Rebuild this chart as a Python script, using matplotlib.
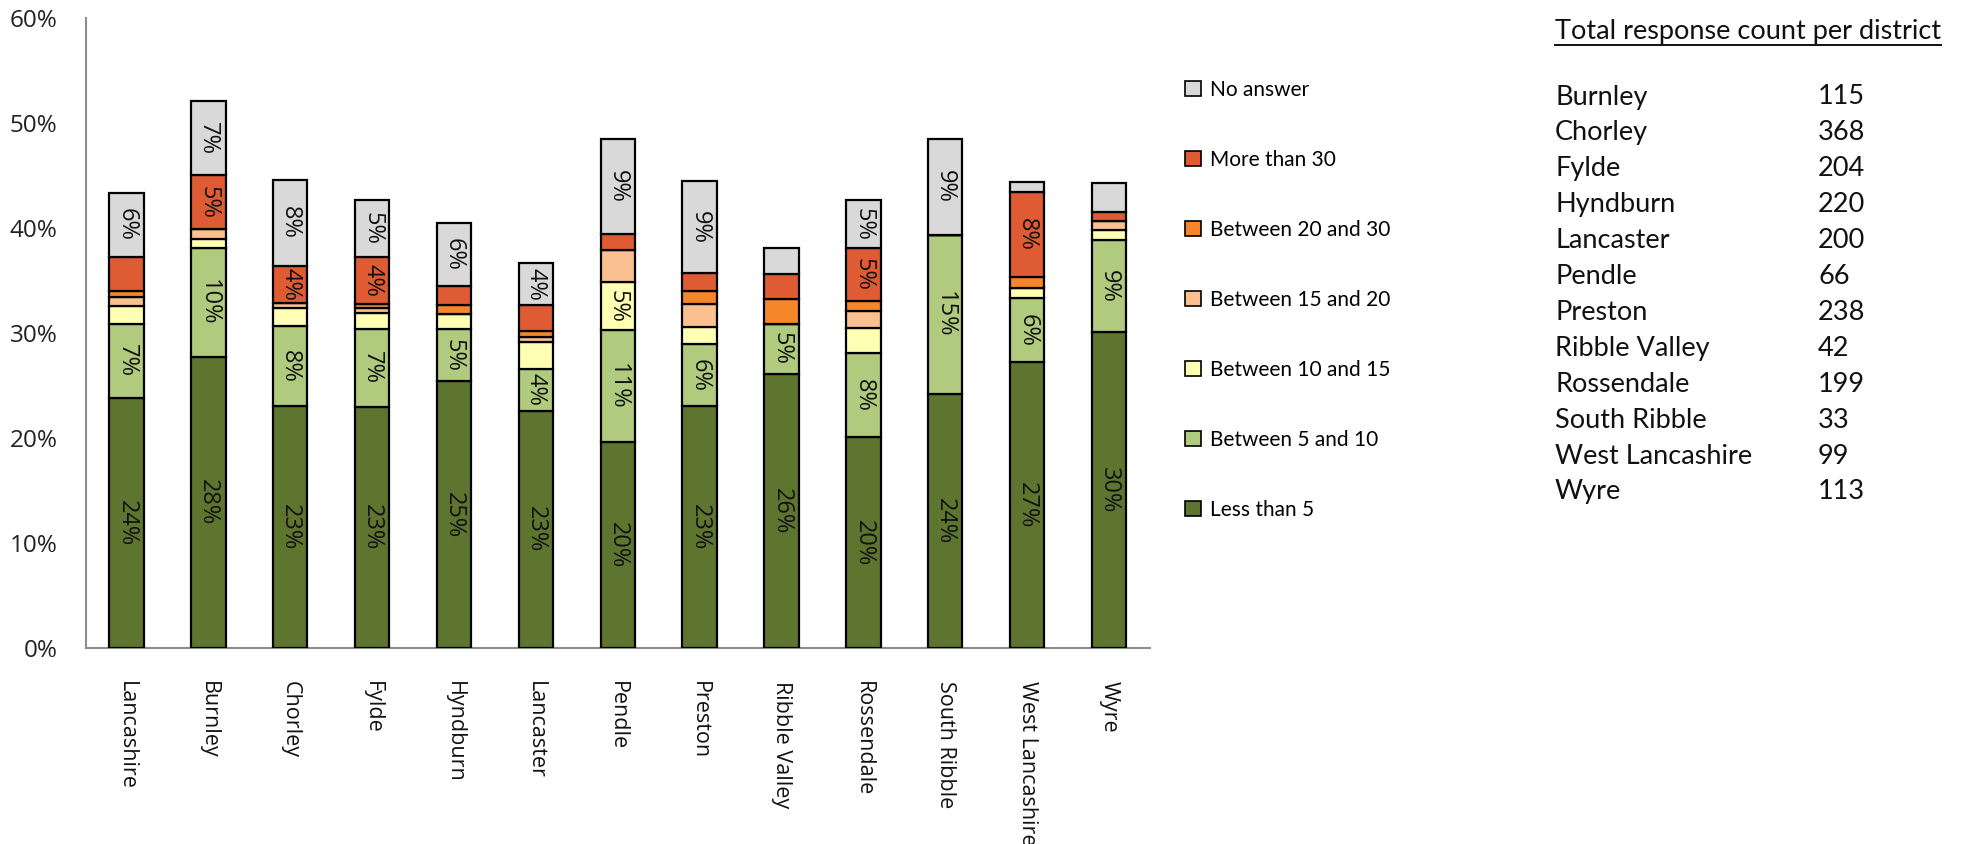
import matplotlib
matplotlib.use("Agg")
import matplotlib.pyplot as plt
from matplotlib.patches import Patch
from matplotlib.lines import Line2D
import numpy as np

districts = ["Lancashire", "Burnley", "Chorley", "Fylde", "Hyndburn", "Lancaster",
             "Pendle", "Preston", "Ribble Valley", "Rossendale", "South Ribble",
             "West Lancashire", "Wyre"]

series_names = ["Less than 5", "Between 5 and 10", "Between 10 and 15",
                "Between 15 and 20", "Between 20 and 30", "More than 30", "No answer"]

less_than_5 = [23.8, 27.7, 23.05, 23.0, 25.4, 22.6, 19.65, 23.05, 26.1, 20.05, 24.2, 27.2, 30.05]
between_5_10 = [7.1, 10.4, 7.6, 7.4, 5.0, 4.0, 10.6, 5.9, 4.8, 8.05, 15.15, 6.1, 8.85]
between_10_15 = [1.7, 0.9, 1.7, 1.5, 1.4, 2.5, 4.6, 1.65, 0.0, 2.4, 0.0, 0.95, 0.9]
between_15_20 = [0.86, 0.86, 0.5, 0.5, 0.0, 0.55, 3.1, 2.15, 0.0, 1.6, 0.0, 0.0, 0.9]
between_20_30 = [0.57, 0.0, 0.0, 0.4, 0.9, 0.5, 0.0, 1.25, 2.35, 0.95, 0.0, 1.05, 0.0]
more_than_30 = [3.24, 5.2, 3.55, 4.45, 1.8, 2.5, 1.45, 1.7, 2.35, 5.05, 0.0, 8.1, 0.85]
no_answer = [6.1, 7.0, 8.2, 5.4, 5.95, 4.0, 9.1, 8.8, 2.45, 4.55, 9.15, 1.0, 2.7]

colors = ["#5E7530", "#B0CB7E", "#FFFFB3", "#FAC090", "#F5872A", "#DE5B33", "#D9D9D9"]

table_districts = ["Burnley", "Chorley", "Fylde", "Hyndburn", "Lancaster", "Pendle",
                   "Preston", "Ribble Valley", "Rossendale", "South Ribble",
                   "West Lancashire", "Wyre"]
table_counts = [115, 368, 204, 220, 200, 66, 238, 42, 199, 33, 99, 113]
table_title = "Total response count per district"

plt.rcParams['font.family'] = ['Open Sans', 'DejaVu Sans']

W, H = 1963, 844
fig = plt.figure(figsize=(W / 100, H / 100), dpi=100)
ax = fig.add_axes([85.5 / W, 1 - 648 / H, (1150 - 85.5) / W, (648 - 18) / H])

series = [less_than_5, between_5_10, between_10_15, between_15_20,
          between_20_30, more_than_30, no_answer]
x = np.arange(len(districts))
bottom = np.zeros(len(districts))
width = 0.42
for name, vals, col in zip(series_names, series, colors):
    v = np.array(vals) / 100.0
    ax.bar(x, v, width, bottom=bottom, color=col, edgecolor="black",
           linewidth=1.6, label=name, zorder=3)
    for xi, b, val in zip(x, bottom, v):
        if val * 100 >= 3.5:
            ax.text(xi, b + val / 2, f"{val * 100:.0f}%", rotation=270,
                    ha="center", va="center", fontsize=17, color="#111111",
                    rotation_mode="anchor", zorder=4)
    bottom = bottom + v

ax.set_ylim(0, 0.6)
ax.set_xlim(-0.5, len(districts) - 0.5)
ax.set_yticks(np.arange(0, 0.61, 0.1))
ax.set_yticklabels([f"{int(round(t * 100))}%" for t in np.arange(0, 0.61, 0.1)],
                   fontsize=17.5, color="#222222")
ax.set_xticks(x)
ax.set_xticklabels(districts, rotation=270, fontsize=15.5, color="#111111",
                   va="top", ha="center")
ax.tick_params(axis="both", length=0)
ax.tick_params(axis="x", pad=24)
ax.tick_params(axis="y", pad=20)
for s in ["top", "right"]:
    ax.spines[s].set_visible(False)
for s in ["left", "bottom"]:
    ax.spines[s].set_color("#8c8c8c")
    ax.spines[s].set_linewidth(1.5)

handles = [Patch(facecolor=c, edgecolor="black", linewidth=1.2) for c in colors]
leg = fig.legend(handles[::-1], series_names[::-1], loc="upper left",
                 bbox_to_anchor=(1185 / W, 1 - 80 / H), frameon=False,
                 prop={"family": "Lato", "size": 15}, labelspacing=2.4,
                 handlelength=0.75, handleheight=0.75, handletextpad=0.45,
                 borderaxespad=0, borderpad=0)

# table
tx_name = 1555 / W
tx_num = 1818 / W
fs_tab = 19.5
t = fig.text(tx_name, 1 - 31 / H, table_title, fontsize=fs_tab, family="Lato",
             ha="left", va="center", color="#111111")
for i, (nm, c) in enumerate(zip(table_districts, table_counts)):
    yy = 1 - (97 + i * 35.9) / H
    fig.text(tx_name, yy, nm, fontsize=fs_tab, family="Lato", ha="left", va="center",
             color="#111111")
    fig.text(tx_num, yy, str(c), fontsize=fs_tab, family="Lato", ha="left", va="center",
             color="#111111")

fig.canvas.draw()
bb = t.get_window_extent(renderer=fig.canvas.get_renderer())
uy = (bb.y0 - 1) / H
fig.add_artist(Line2D([bb.x0 / W, bb.x1 / W], [uy, uy], color="#111111", linewidth=1.4))

fig.savefig("out.png", dpi=100, facecolor="white")
